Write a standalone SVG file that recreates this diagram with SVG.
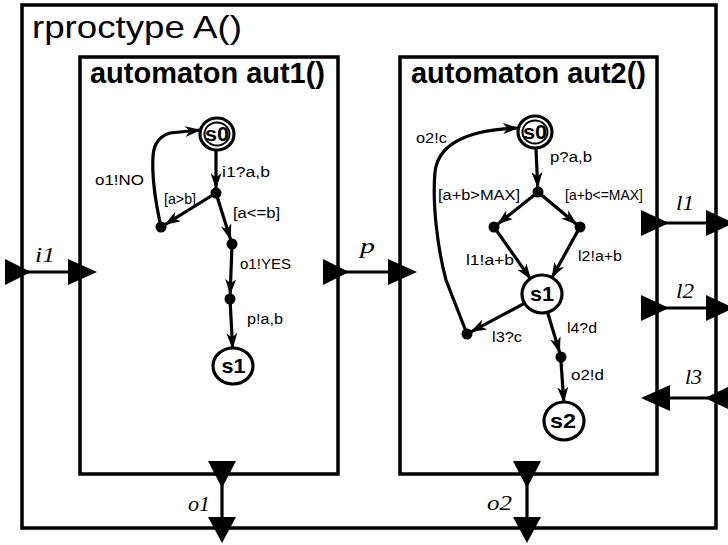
<svg xmlns="http://www.w3.org/2000/svg" width="728" height="545" viewBox="0 0 728 545">
<style>
  .box{fill:none;stroke:#000;stroke-width:3.5}
  .ttl{font-family:"Liberation Sans",Arial,sans-serif;fill:#000}
  .st{fill:#fff;stroke:#000;stroke-width:3.2}
  .st2{fill:none;stroke:#000;stroke-width:2}
  .sl{font-family:"Liberation Sans",Arial,sans-serif;font-weight:bold;text-anchor:middle;fill:#000}
  .dot{fill:#000}
  .tr{fill:none;stroke:#000;stroke-width:3.2;marker-end:url(#ah)}
  .lbl{font-family:"Liberation Sans",Arial,sans-serif;font-size:14px;fill:#000}
  .port{font-family:"Liberation Serif","Times New Roman",serif;font-style:italic;font-size:22px;fill:#000}
  .pl{fill:none;stroke:#000;stroke-width:3.2}
  .tri{fill:#000}
</style>
<defs>
  <marker id="ah" viewBox="0 0 16 11" refX="15" refY="5.5" markerWidth="16" markerHeight="11" markerUnits="userSpaceOnUse" orient="auto">
    <path d="M0,0 L16,5.5 L0,11 L4.5,5.5 z" fill="#000"/>
  </marker>
</defs>

<g id="rproctype-A">
  <rect class="box" x="22" y="5" width="694" height="523"/>
  <text class="ttl" x="32" y="38" font-size="32" textLength="210" lengthAdjust="spacingAndGlyphs">rproctype A()</text>
</g>

<g id="aut1">
  <rect class="box" x="80" y="57" width="258" height="417"/>
  <text class="ttl" x="90" y="83" font-size="29" font-weight="bold" textLength="235" lengthAdjust="spacingAndGlyphs">automaton aut1()</text>
</g>

<g id="aut2">
  <rect class="box" x="400" y="57" width="257" height="417"/>
  <text class="ttl" x="411" y="83" font-size="29" font-weight="bold" textLength="235" lengthAdjust="spacingAndGlyphs">automaton aut2()</text>
</g>

<!-- aut1 states -->
<g id="aut1-s0">
  <ellipse class="st" cx="217" cy="134" rx="17" ry="16"/>
  <ellipse class="st2" cx="217" cy="134" rx="12.5" ry="11.5"/>
  <text class="sl" x="217" y="141" font-size="20" textLength="24" lengthAdjust="spacingAndGlyphs">s0</text>
</g>
<g id="aut1-s1">
  <ellipse class="st" cx="233" cy="366" rx="20" ry="18"/>
  <text class="sl" x="233.5" y="373" font-size="21" textLength="24" lengthAdjust="spacingAndGlyphs">s1</text>
</g>
<g id="aut1-dots">
  <circle id="aut1-j0" class="dot" cx="216" cy="193" r="5.5"/>
  <circle id="aut1-j1" class="dot" cx="161" cy="227" r="5.5"/>
  <circle id="aut1-j2" class="dot" cx="232" cy="244" r="5.5"/>
  <circle id="aut1-j3" class="dot" cx="230" cy="299" r="5.5"/>
</g>

<!-- aut2 states -->
<g id="aut2-s0">
  <ellipse class="st" cx="535" cy="132" rx="17" ry="16"/>
  <ellipse class="st2" cx="535" cy="132" rx="12.5" ry="11.5"/>
  <text class="sl" x="535" y="139" font-size="20" textLength="24" lengthAdjust="spacingAndGlyphs">s0</text>
</g>
<g id="aut2-s1">
  <ellipse class="st" cx="542" cy="294" rx="20" ry="19"/>
  <text class="sl" x="542" y="301" font-size="21" textLength="24" lengthAdjust="spacingAndGlyphs">s1</text>
</g>
<g id="aut2-s2">
  <ellipse class="st" cx="564" cy="421" rx="20" ry="19"/>
  <text class="sl" x="563" y="428" font-size="21" textLength="26" lengthAdjust="spacingAndGlyphs">s2</text>
</g>
<g id="aut2-dots">
  <circle id="aut2-j0" class="dot" cx="538" cy="192" r="5.5"/>
  <circle id="aut2-j1" class="dot" cx="494" cy="227" r="5.5"/>
  <circle id="aut2-j2" class="dot" cx="580" cy="227" r="5.5"/>
  <circle id="aut2-j3" class="dot" cx="467" cy="334" r="5.5"/>
  <circle id="aut2-j4" class="dot" cx="561" cy="357" r="5.5"/>
</g>

<!-- ports -->
<g id="port-i1">
  <path class="pl" d="M25,272 H70"/>
  <polygon class="tri" points="5,259 31,272 5,285"/>
  <polygon class="tri" points="68,259 97,272 68,285"/>
  <text class="port" x="35" y="262" textLength="20" lengthAdjust="spacingAndGlyphs">i1</text>
</g>
<g id="port-p">
  <path class="pl" d="M340,272 H390"/>
  <polygon class="tri" points="323,259 349,272 323,285"/>
  <polygon class="tri" points="388,259 417,272 388,285"/>
  <text class="port" x="360" y="253" textLength="15" lengthAdjust="spacingAndGlyphs">p</text>
</g>
<g id="port-l1">
  <path class="pl" d="M660,223 H708"/>
  <polygon class="tri" points="641,210 669,223 641,236"/>
  <polygon class="tri" points="706,210 734,223 706,236"/>
  <text class="port" x="676" y="210" textLength="18" lengthAdjust="spacingAndGlyphs">l1</text>
</g>
<g id="port-l2">
  <path class="pl" d="M660,308 H708"/>
  <polygon class="tri" points="641,295 669,308 641,321"/>
  <polygon class="tri" points="706,295 734,308 706,321"/>
  <text class="port" x="676" y="298" textLength="18" lengthAdjust="spacingAndGlyphs">l2</text>
</g>
<g id="port-l3">
  <path class="pl" d="M668,398 H718"/>
  <polygon class="tri" points="670,385 641,398 670,411"/>
  <polygon class="tri" points="732,385 705,398 732,411"/>
  <text class="port" x="685" y="384" textLength="17" lengthAdjust="spacingAndGlyphs">l3</text>
</g>
<g id="port-o1">
  <path class="pl" d="M222,475 V519"/>
  <polygon class="tri" points="208,461 236,461 222,488"/>
  <polygon class="tri" points="208,517 236,517 222,543"/>
  <text class="port" x="188" y="511" textLength="22" lengthAdjust="spacingAndGlyphs">o1</text>
</g>
<g id="port-o2">
  <path class="pl" d="M527,475 V519"/>
  <polygon class="tri" points="513,461 541,461 527,488"/>
  <polygon class="tri" points="513,517 541,517 527,543"/>
  <text class="port" x="487" y="510" textLength="25" lengthAdjust="spacingAndGlyphs">o2</text>
</g>

<!-- connectors (transitions) -->
<g id="connectors">
  <path class="tr" d="M216,151 L216,188"/>
  <path class="tr" d="M216,193 L165.3,224.4"/>
  <path class="tr" d="M216,193 L230.5,239.2"/>
  <path class="tr" d="M232,244 L230.2,294"/>
  <path class="tr" d="M230,299 L232.6,348"/>
  <path class="tr" d="M161,227 C155,200 152,172 153,156 Q154,138 170,133 L200,130"/>

  <path class="tr" d="M536,149 L537.7,187"/>
  <path class="tr" d="M538,192 L497.9,224"/>
  <path class="tr" d="M538,192 L576.2,224"/>
  <path class="tr" d="M494,227 L530.5,278.8"/>
  <path class="tr" d="M580,227 L552,277.5"/>
  <path class="tr" d="M524.4,303.4 L471.4,331.6"/>
  <path class="tr" d="M547.5,312.2 L559.6,352.2"/>
  <path class="tr" d="M561,362 L563.8,402"/>
  <path class="tr" d="M467,334 L446,280 C438,250 432,205 435,172 C438,146 464,130 518,128"/>
</g>

<!-- transition labels -->
<g id="labels">
  <text class="lbl" x="222" y="177" textLength="48" lengthAdjust="spacingAndGlyphs">i1?a,b</text>
  <text class="lbl" x="95" y="185" textLength="49" lengthAdjust="spacingAndGlyphs">o1!NO</text>
  <text class="lbl" x="164" y="204" font-size="12" textLength="32" lengthAdjust="spacingAndGlyphs">[a&gt;b]</text>
  <text class="lbl" x="233" y="218" font-size="13" textLength="47" lengthAdjust="spacingAndGlyphs">[a&lt;=b]</text>
  <text class="lbl" x="240" y="269" font-size="13" textLength="51" lengthAdjust="spacingAndGlyphs">o1!YES</text>
  <text class="lbl" x="247" y="324" textLength="36" lengthAdjust="spacingAndGlyphs">p!a,b</text>

  <text class="lbl" x="416" y="143" textLength="31" lengthAdjust="spacingAndGlyphs">o2!c</text>
  <text class="lbl" x="550" y="162" textLength="42" lengthAdjust="spacingAndGlyphs">p?a,b</text>
  <text class="lbl" x="438" y="200" font-size="13" textLength="82" lengthAdjust="spacingAndGlyphs">[a+b&gt;MAX]</text>
  <text class="lbl" x="565" y="200" font-size="12" textLength="78" lengthAdjust="spacingAndGlyphs">[a+b&lt;=MAX]</text>
  <text class="lbl" x="466" y="265" textLength="48" lengthAdjust="spacingAndGlyphs">l1!a+b</text>
  <text class="lbl" x="578" y="261" textLength="44" lengthAdjust="spacingAndGlyphs">l2!a+b</text>
  <text class="lbl" x="492" y="342" font-size="13" textLength="30" lengthAdjust="spacingAndGlyphs">l3?c</text>
  <text class="lbl" x="567" y="333" font-size="13" textLength="30" lengthAdjust="spacingAndGlyphs">l4?d</text>
  <text class="lbl" x="571" y="380" font-size="13" textLength="33" lengthAdjust="spacingAndGlyphs">o2!d</text>
</g>
</svg>
